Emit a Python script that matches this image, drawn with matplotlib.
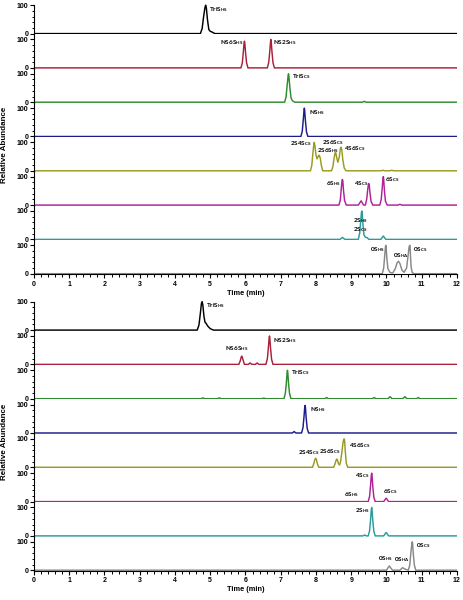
import matplotlib
matplotlib.use("Agg")
import matplotlib.pyplot as plt
from matplotlib.ticker import MultipleLocator, FixedLocator

plt.rcParams['font.family'] = ['Liberation Sans', 'DejaVu Sans']
plt.rcParams['mathtext.fontset'] = 'custom'
plt.rcParams['mathtext.bf'] = 'Lato:bold'
plt.rcParams['mathtext.rm'] = 'Lato'

# ---------------- data (time in min, relative abundance in %) ----------------
colors = ['#000000', '#a8203a', '#2e8b2e', '#1c1c8a', '#9a9a22', '#b0209a', '#2a9a9a', '#888888']

# top panel traces
top_t = [
    [0, 4.72, 4.77, 4.81, 4.85, 4.87, 4.89, 4.92, 4.96, 5.00, 5.06, 5.13, 12],
    [0, 5.87, 5.91, 5.94, 5.96, 5.97, 5.98, 6.00, 6.03, 6.07, 6.62, 6.66, 6.69, 6.71, 6.72, 6.73, 6.75, 6.78, 6.82, 12],
    [0, 7.11, 7.15, 7.18, 7.21, 7.22, 7.23, 7.26, 7.29, 7.33, 7.40, 9.32, 9.37, 9.42, 12],
    [0, 7.57, 7.61, 7.64, 7.66, 7.67, 7.68, 7.70, 7.73, 7.77, 12],
    [0, 7.84, 7.88, 7.91, 7.94, 7.95, 7.97, 8.00, 8.03, 8.07, 8.09, 8.12, 8.15, 8.19, 8.44, 8.48, 8.51, 8.54,
     8.56, 8.59, 8.62, 8.66, 8.69, 8.71, 8.73, 8.76, 8.80, 8.85, 9.85, 9.90, 9.95, 10.10, 10.15, 10.20, 12],
    [0, 8.65, 8.69, 8.72, 8.74, 8.75, 8.76, 8.78, 8.81, 8.86, 9.20, 9.28, 9.35, 9.40, 9.44, 9.47, 9.49, 9.50,
     9.51, 9.53, 9.56, 9.61, 9.81, 9.85, 9.88, 9.90, 9.91, 9.92, 9.94, 9.97, 10.02, 10.33, 10.38, 10.43, 12],
    [0, 8.68, 8.75, 8.82, 9.20, 9.24, 9.27, 9.29, 9.30, 9.31, 9.33, 9.36, 9.40, 9.45, 9.50, 9.84, 9.91, 9.98, 12],
    [0, 9.88, 9.92, 9.95, 9.97, 9.98, 9.99, 10.01, 10.04, 10.10, 10.18, 10.25, 10.30, 10.34, 10.38, 10.44,
     10.50, 10.57, 10.61, 10.64, 10.66, 10.67, 10.68, 10.70, 10.73, 10.78, 12],
]
top_v = [
    [0, 0, 18, 58, 92, 100, 90, 50, 14, 8, 5, 0, 0],
    [0, 0, 18, 58, 88, 94, 88, 56, 18, 0, 0, 20, 60, 92, 100, 92, 58, 18, 0, 0],
    [0, 0, 18, 58, 94, 100, 92, 50, 16, 5, 0, 0, 3, 0, 0],
    [0, 0, 18, 60, 92, 100, 90, 55, 16, 0, 0],
    [0, 0, 18, 60, 95, 100, 88, 55, 42, 52, 55, 45, 20, 0, 0, 15, 42, 63,
     64, 45, 30, 48, 78, 83, 76, 40, 10, 0, 0, 2, 0, 0, 2, 0, 0],
    [0, 0, 18, 62, 88, 90, 86, 52, 16, 0, 0, 15, 0, 0, 22, 58, 74, 76,
     72, 45, 14, 0, 0, 20, 62, 94, 100, 92, 52, 14, 0, 0, 3, 0, 0],
    [0, 0, 7, 0, 0, 22, 68, 96, 100, 94, 55, 16, 8, 6, 0, 0, 12, 0, 0],
    [0, 0, 20, 64, 94, 100, 92, 55, 18, 4, 3, 18, 38, 44, 36, 12,
     5, 20, 62, 94, 100, 94, 62, 22, 4, 0, 0],
]

# bottom panel traces
bot_t = [
    [0, 4.63, 4.68, 4.72, 4.75, 4.77, 4.79, 4.82, 4.85, 4.88, 4.93, 5.00, 5.09, 12],
    [0, 5.81, 5.85, 5.88, 5.89, 5.90, 5.93, 5.97, 6.08, 6.13, 6.18, 6.28, 6.33, 6.38, 6.58, 6.62, 6.65,
     6.67, 6.68, 6.69, 6.71, 6.74, 6.78, 12],
    [0, 4.74, 4.79, 4.84, 5.21, 5.26, 5.31, 6.47, 6.52, 6.57, 7.09, 7.13, 7.16, 7.18, 7.19, 7.20, 7.22,
     7.25, 7.29, 8.25, 8.30, 8.35, 9.60, 9.65, 9.70, 10.04, 10.10, 10.16, 10.46, 10.52, 10.58, 10.85,
     10.90, 10.95, 12],
    [0, 7.33, 7.38, 7.43, 7.59, 7.63, 7.66, 7.68, 7.69, 7.70, 7.72, 7.75, 7.79, 12],
    [0, 7.90, 7.94, 7.97, 7.99, 8.01, 8.04, 8.08, 8.50, 8.54, 8.57, 8.59, 8.61, 8.64, 8.67, 8.70, 8.74,
     8.77, 8.79, 8.80, 8.81, 8.83, 8.86, 8.90, 12],
    [0, 9.48, 9.52, 9.55, 9.57, 9.58, 9.59, 9.61, 9.64, 9.68, 9.92, 9.96, 9.99, 10.02, 10.06, 12],
    [0, 9.33, 9.38, 9.43, 9.48, 9.52, 9.55, 9.57, 9.58, 9.59, 9.61, 9.64, 9.68, 9.92, 9.96, 9.99, 10.02,
     10.06, 12],
    [0, 10.00, 10.04, 10.08, 10.12, 10.17, 10.38, 10.43, 10.46, 10.50, 10.62, 10.66, 10.69, 10.72, 10.73,
     10.74, 10.76, 10.79, 10.83, 12],
]
bot_v = [
    [0, 0, 18, 60, 94, 100, 88, 50, 28, 24, 14, 5, 0, 0],
    [0, 0, 12, 26, 29, 28, 16, 0, 0, 5, 0, 0, 5, 0, 0, 20, 60,
     92, 100, 92, 58, 18, 0, 0],
    [0, 0, 3, 0, 0, 3, 0, 0, 2, 0, 0, 18, 58, 92, 100, 92, 55,
     18, 0, 0, 4, 0, 0, 4, 0, 0, 7, 0, 0, 7, 0, 0,
     4, 0, 0],
    [0, 0, 5, 0, 0, 18, 58, 90, 97, 90, 55, 16, 0, 0],
    [0, 0, 14, 28, 32, 28, 12, 0, 0, 12, 25, 29, 25, 12, 8, 22, 60,
     90, 99, 100, 96, 58, 14, 0, 0],
    [0, 0, 18, 60, 94, 100, 92, 55, 16, 0, 0, 7, 12, 7, 0, 0],
    [0, 0, 3, 0, 0, 18, 60, 94, 100, 92, 55, 16, 0, 0, 7, 12, 7,
     0, 0],
    [0, 0, 8, 15, 8, 0, 0, 6, 9, 5, 0, 18, 60, 94, 100,
     94, 58, 18, 0, 0],
]

# peak labels: (trace index, name, subscript, time, abundance)
top_labels = [
    (0, 'TriS', 'HS', 4.97, 83),
    (1, 'NS6S', 'HS', 5.28, 88),
    (1, 'NS2S', 'HS', 6.79, 88),
    (2, 'TriS', 'CS', 7.32, 89),
    (3, 'NS', 'HS', 7.80, 83),
    (4, '2S4S', 'CS', 7.26, 95),
    (4, '2S6S', 'CS', 8.16, 101),
    (4, '2S6S', 'HS', 8.02, 71),
    (4, '4S6S', 'CS', 8.80, 80),
    (5, '6S', 'HS', 8.28, 77),
    (5, '4S', 'CS', 9.08, 77),
    (5, '6S', 'CS', 9.97, 90),
    (6, '2S', 'HS', 9.06, 67),
    (6, '2S', 'CS', 9.06, 33),
    (7, '0S', 'HS', 9.53, 85),
    (7, '0S', 'HA', 10.19, 65),
    (7, '0S', 'CS', 10.74, 85),
]
bot_labels = [
    (0, 'TriS', 'HS', 4.88, 88),
    (1, 'NS6S', 'HS', 5.42, 55),
    (1, 'NS2S', 'HS', 6.79, 85),
    (2, 'TriS', 'CS', 7.29, 92),
    (3, 'NS', 'HS', 7.83, 82),
    (4, '2S4S', 'CS', 7.48, 53),
    (4, '2S6S', 'CS', 8.09, 57),
    (4, '4S6S', 'CS', 8.94, 78),
    (5, '4S', 'CS', 9.11, 90),
    (5, '6S', 'HS', 8.79, 24),
    (5, '6S', 'CS', 9.91, 35),
    (6, '2S', 'HS', 9.11, 88),
    (7, '0S', 'HS', 9.77, 41),
    (7, '0S', 'HA', 10.22, 39),
    (7, '0S', 'CS', 10.83, 88),
]

x_ticks = list(range(0, 13))
y_tick_labels = ['0', '100']
xlabel = 'Time (min)'
ylabel = 'Relative Abundance'

# ---------------- figure ----------------
W, H = 464, 600
fig = plt.figure(figsize=(W / 100, H / 100), dpi=100)

left_px, right_px = 34, 457
row_px = 34.3
ylo, yhi = -2.5, 118.3


def draw_panel(top_px, traces_t, traces_v, labels):
    axes = []
    for i in range(8):
        y_top = top_px + row_px * i
        ax = fig.add_axes([left_px / W, 1 - (y_top + row_px) / H,
                           (right_px - left_px) / W, row_px / H])
        ax.patch.set_alpha(0)
        ax.plot(traces_t[i], traces_v[i], color=colors[i], lw=1.05, solid_joinstyle='round')
        ax.set_xlim(0, 12)
        ax.set_ylim(ylo, yhi)
        for s in ['top', 'right']:
            ax.spines[s].set_visible(False)
        ax.spines['left'].set_linewidth(0.8)
        if i == 0:
            ax.spines['left'].set_bounds(ylo, 100)
        ax.yaxis.set_major_locator(FixedLocator([0, 100]))
        ax.set_yticklabels(y_tick_labels)
        ax.yaxis.set_minor_locator(FixedLocator([20, 40, 60, 80]))
        ax.tick_params(axis='y', which='major', length=3, width=0.8, pad=1,
                       labelsize=5)
        ax.tick_params(axis='y', which='minor', length=1.8, width=0.7)
        for lbl in ax.get_yticklabels():
            lbl.set_fontweight('bold')
        if i < 7:
            ax.spines['bottom'].set_visible(False)
            ax.tick_params(axis='x', which='both', bottom=False, labelbottom=False)
        else:
            ax.spines['bottom'].set_linewidth(0.8)
            ax.set_xticks(x_ticks)
            ax.xaxis.set_minor_locator(MultipleLocator(0.2))
            ax.tick_params(axis='x', which='major', length=3, width=0.8, pad=1.5,
                           labelsize=5)
            ax.tick_params(axis='x', which='minor', length=1.8, width=0.7)
            for lbl in ax.get_xticklabels():
                lbl.set_fontweight('bold')
            ax.set_xlabel(xlabel, fontsize=5.3, fontweight='bold', labelpad=1.5)
        axes.append(ax)
    for (k, name, sub, t, v) in labels:
        axes[k].text(t, v, r'$\mathbf{%s}_{\mathbf{%s}}$' % (name, sub),
                     fontsize=4.6, ha='left', va='center', clip_on=False)
    # y label
    fig.text(5 / W, 1 - (top_px + 4 * row_px + 8) / H, ylabel, rotation=90,
             fontsize=5.8, fontweight='bold', ha='center', va='center')


draw_panel(0.0, top_t, top_v, top_labels)
draw_panel(296.5, bot_t, bot_v, bot_labels)

fig.savefig('out.png', dpi=100)
